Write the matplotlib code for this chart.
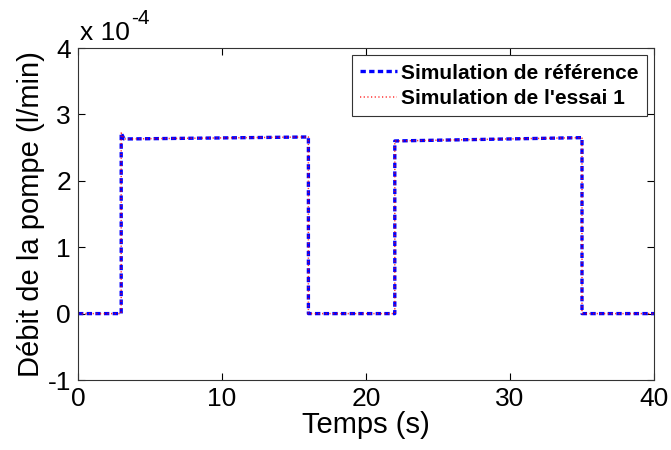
import matplotlib
matplotlib.use("Agg")
import matplotlib.pyplot as plt

plt.rcParams['font.family'] = ['Liberation Sans', 'DejaVu Sans']
plt.rcParams['axes.unicode_minus'] = False

# pump flow (units of 1e-4 l/min) vs time (s)
temps = [0, 3, 3, 3.2, 16, 16, 22, 22, 35, 35, 40]
debit_ref = [0, 0, 2.72, 2.63, 2.66, 0, 0, 2.60, 2.65, 0, 0]
debit_essai = [0, 0, 2.72, 2.63, 2.66, 0, 0, 2.60, 2.65, 0, 0]

xticks = [0, 10, 20, 30, 40]
yticks = [-1, 0, 1, 2, 3, 4]

W, H = 671, 450
fig = plt.figure(figsize=(W / 100, H / 100), dpi=100)
ax = fig.add_axes([78 / W, 1 - 380 / H, (654 - 78) / W, (380 - 48) / H])

ax.plot(temps, debit_ref, color='blue', linestyle='--', linewidth=2.4,
        dashes=(1.6, 1.0), label='Simulation de référence')
ax.plot(temps, debit_essai, color='red', linestyle=':', linewidth=1.1,
        dashes=(0.8, 1.6), alpha=0.8, label="Simulation de l'essai 1")

ax.set_xlim(0, 40)
ax.set_ylim(-1, 4)
ax.set_xticks(xticks)
ax.set_yticks(yticks)
ax.tick_params(direction='in', top=True, right=True, labelsize=19, length=5,
               width=0.8, pad=5)
for s in ax.spines.values():
    s.set_linewidth(0.8)
    s.set_color('#333333')

ax.set_xlabel('Temps (s)', fontsize=21, labelpad=0)
ax.set_ylabel('Débit de la pompe (l/min)', fontsize=21, labelpad=2)

# MATLAB style exponent label above the axes
fig.text(80 / W, 1 - 40 / H, 'x 10', fontsize=19, ha='left', va='baseline')
fig.text(131 / W, 1 - 24 / H, '-4', fontsize=15, ha='left', va='baseline')

leg = ax.legend(loc='upper right', prop={'weight': 'bold', 'size': 15},
                fancybox=False, framealpha=1, edgecolor='#333333',
                handlelength=1.75, handletextpad=0.2, borderpad=0.4,
                labelspacing=0.3, borderaxespad=0.35)
leg.get_frame().set_linewidth(0.8)

fig.savefig('out.png', dpi=100)
